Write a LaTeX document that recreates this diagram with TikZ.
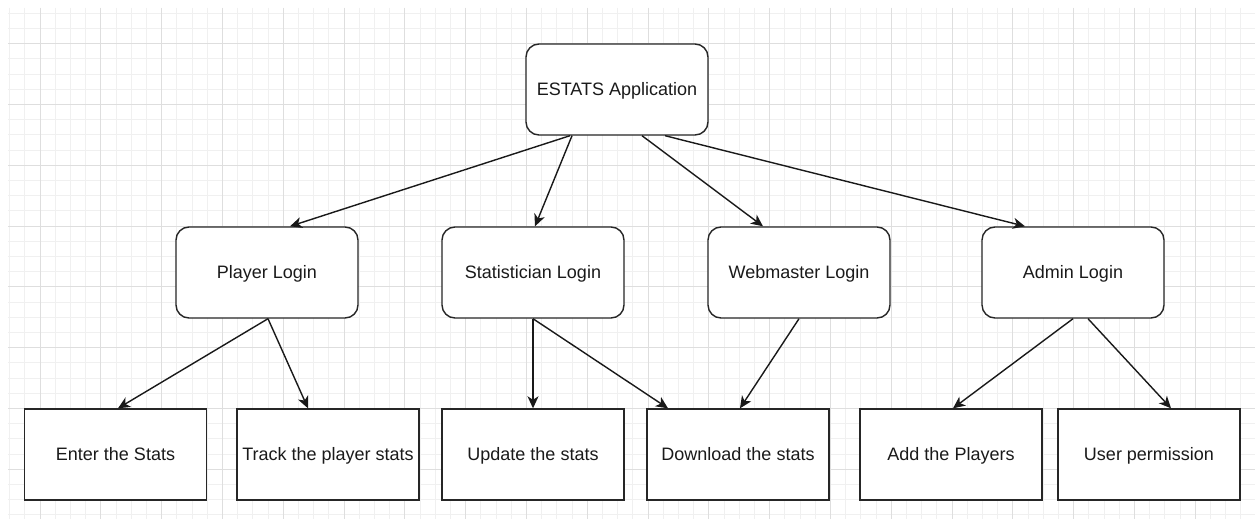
\documentclass[tikz,border=0pt]{standalone}
\usepackage{fontspec}
\setmainfont{Liberation Sans}
\usetikzlibrary{arrows.meta}
\definecolor{gridminor}{HTML}{F0F0F0}
\definecolor{gridmajor}{HTML}{DEDEDE}
\definecolor{txt}{HTML}{1A1A1A}
\tikzset{
  boxbase/.style={draw=black!85, line width=1.4pt, fill=white,
    minimum width=182pt, minimum height=91pt, inner sep=0pt,
    font=\fontsize{18}{21}\selectfont, text=txt, text height=12.9pt, text depth=0pt},
  rbox/.style={boxbase, rounded corners=13pt},
  sbox/.style={boxbase},
  conn/.style={draw=black!90, line width=1.4pt, -{Stealth[length=12pt,width=11pt,inset=3.5pt]}}
}
\begin{document}
\begin{tikzpicture}[x=1pt,y=-1pt]
\useasboundingbox (0,0) rectangle (1255,519);
\fill[white] (0,0) rectangle (1255,519);
\begin{scope}
\clip (8,8) rectangle (1255,519);
\foreach \i in {0,...,82} {
  \draw[gridminor, line width=1pt] (9.6+15.2*\i,8) -- (9.6+15.2*\i,519);
}
\foreach \i in {0,...,34} {
  \draw[gridminor, line width=1pt] (8,13.3+15.2*\i) -- (1255,13.3+15.2*\i);
}
\foreach \i in {0,...,20} {
  \draw[gridmajor, line width=1pt] (40+60.8*\i,8) -- (40+60.8*\i,519);
}
\foreach \i in {0,...,8} {
  \draw[gridmajor, line width=1pt] (8,43.7+60.8*\i) -- (1255,43.7+60.8*\i);
}
\end{scope}

\node[rbox] (app) at (617,89.5) {ESTATS Application};
\node[rbox] (player) at (267,272.5) {Player Login};
\node[rbox] (stat) at (533,272.5) {Statistician Login};
\node[rbox] (web) at (799,272.5) {Webmaster Login};
\node[rbox] (admin) at (1073,272.5) {Admin Login};

\node[sbox] (enter) at (115.5,454.5) {Enter the Stats};
\node[sbox] (track) at (328,454.5) {Track the player stats};
\node[sbox] (update) at (533,454.5) {Update the stats};
\node[sbox] (download) at (738,454.5) {Download the stats};
\node[sbox] (add) at (951,454.5) {Add the Players};
\node[sbox] (user) at (1149,454.5) {User permission};

\draw[conn] ([xshift=-47pt]app.south) -- ([xshift=23pt]player.north);
\draw[conn] ([xshift=-45pt]app.south) -- ([xshift=2pt]stat.north);
\draw[conn] ([xshift=25pt]app.south) -- ([xshift=-36pt]web.north);
\draw[conn] ([xshift=48pt]app.south) -- ([xshift=-48pt]admin.north);

\draw[conn] ([xshift=1pt]player.south) -- ([xshift=2.5pt]enter.north);
\draw[conn] ([xshift=1pt]player.south) -- ([xshift=-20pt]track.north);
\draw[conn] (stat.south) -- (update.north);
\draw[conn] (stat.south) -- ([xshift=-70pt]download.north);
\draw[conn] (web.south) -- ([xshift=2pt]download.north);
\draw[conn] (admin.south) -- ([xshift=2pt]add.north);
\draw[conn] ([xshift=15pt]admin.south) -- ([xshift=22pt]user.north);
\end{tikzpicture}
\end{document}
